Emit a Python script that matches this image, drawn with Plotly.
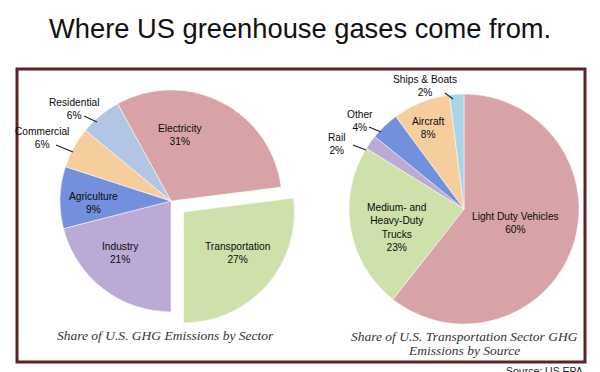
import plotly.graph_objects as go

# ---------------- data ----------------
sector_labels = ["Electricity", "Transportation", "Industry", "Agriculture", "Commercial", "Residential"]
sector_values = [31, 27, 21, 9, 6, 6]
sector_pull = [0, 0.15, 0, 0, 0, 0]

transport_labels = ["Light Duty Vehicles", "Medium- and<br>Heavy-Duty<br>Trucks", "Rail", "Other", "Aircraft", "Ships & Boats"]
transport_values = [60, 23, 2, 4, 8, 2]

# ---------------- styles ----------------
sector_colors = ["#d8a3a6", "#cfe1aa", "#bbaad6", "#7390dc", "#f6ce9e", "#b3c5e4"]
transport_colors = ["#d8a3a6", "#cfe1aa", "#bbaad6", "#7390dc", "#f6ce9e", "#abd4e6"]

W, H = 600, 372
LABEL_FONT = dict(family="Liberation Sans, Arial, sans-serif", size=10.2, color="#0a0a0a")
CAP_FONT = dict(family="Liberation Serif, Times New Roman, serif", size=13.5, color="#333333", style="italic")


def px(x, y):
    return x / W, 1 - y / H


def label(xp, yp, text, font, align="center", xanchor="center", yanchor="middle"):
    x, y = px(xp, yp)
    return dict(x=x, y=y, xref="paper", yref="paper", showarrow=False, text=text,
                font=font, align=align, xanchor=xanchor, yanchor=yanchor)


fig = go.Figure()

# left pie: center (171, 201), r=111, pull 0.15
half_l = 111 * 1.15
fig.add_trace(go.Pie(
    labels=sector_labels, values=sector_values, pull=sector_pull,
    sort=False, direction="clockwise", rotation=-28.8,
    marker=dict(colors=sector_colors, line=dict(color="white", width=0.5)),
    textinfo="none", hoverinfo="label+percent", showlegend=False,
    domain=dict(x=[(171 - half_l) / W, (171 + half_l) / W],
                y=[(H - 201 - half_l) / H, (H - 201 + half_l) / H]),
))

# right pie: center (464, 209), r=115
half_r = 115
fig.add_trace(go.Pie(
    labels=transport_labels, values=transport_values,
    sort=False, direction="clockwise", rotation=0,
    marker=dict(colors=transport_colors, line=dict(color="white", width=0.5)),
    textinfo="none", hoverinfo="label+percent", showlegend=False,
    domain=dict(x=[(464 - half_r) / W, (464 + half_r) / W],
                y=[(H - 209 - half_r) / H, (H - 209 + half_r) / H]),
))

annotations = []
shapes = []

# inside labels (positions in pixels)
inside_left = {"Electricity": (180, 135), "Transportation": (237, 253),
               "Industry": (120, 253), "Agriculture": (93, 203)}
for lab, val in zip(sector_labels, sector_values):
    if lab in inside_left:
        annotations.append(label(*inside_left[lab], f"{lab}<br>{val}%", LABEL_FONT))

inside_right = {"Light Duty Vehicles": (515, 223), "Medium- and<br>Heavy-Duty<br>Trucks": (397, 227),
                "Aircraft": (428, 128)}
for lab, val in zip(transport_labels, transport_values):
    if lab in inside_right:
        annotations.append(label(*inside_right[lab], f"{lab}<br>{val}%", LABEL_FONT))


def leader(x0, y0, x1, y1):
    a, b = px(x0, y0)
    c, d = px(x1, y1)
    shapes.append(dict(type="line", xref="paper", yref="paper", x0=a, y0=b, x1=c, y1=d,
                       line=dict(color="#222222", width=1.2)))


# outside labels with leader lines: (text anchor, line start, line end)
outside_left = {"Residential": ((101, 109), (84, 116), (97, 122)),
                "Commercial": ((71, 138), (56, 145), (73, 152))}
for lab, val in zip(sector_labels, sector_values):
    if lab in outside_left:
        (tx, ty), (x0, y0), (x1, y1) = outside_left[lab]
        annotations.append(label(tx, ty, f"{lab}<br>{val}%", LABEL_FONT, align="center", xanchor="right"))
        leader(x0, y0, x1, y1)

outside_right = {"Ships & Boats": ((425, 86), (445, 93), (453, 99)),
                 "Other": ((360, 121), (369, 127), (381, 132)),
                 "Rail": ((337, 144), (353, 145), (366, 150))}
for lab, val in zip(transport_labels, transport_values):
    if lab in outside_right:
        (tx, ty), (x0, y0), (x1, y1) = outside_right[lab]
        annotations.append(label(tx, ty, f"{lab}<br>{val}%", LABEL_FONT))
        leader(x0, y0, x1, y1)

# captions
annotations.append(label(165, 335, "Share of U.S. GHG Emissions by Sector", CAP_FONT))
annotations.append(label(464, 336, "Share of U.S. Transportation Sector GHG", CAP_FONT))
annotations.append(label(464, 350, "Emissions by Source", CAP_FONT))

# main title
annotations.append(label(300, 28, "Where US greenhouse gases come from.",
                         dict(family="Liberation Sans, Arial, sans-serif", size=27.3, color="#111111")))

# source
annotations.append(label(585, 363, "Source: US EPA",
                         dict(family="Liberation Sans, Arial, sans-serif", size=10.5, color="#222222"),
                         xanchor="right", yanchor="top"))

x0, y1 = px(17, 69)
x1, y0 = px(585, 362)
shapes.append(dict(type="rect", xref="paper", yref="paper", x0=x0, x1=x1, y0=y0, y1=y1,
                   line=dict(color="#5e2224", width=3), layer="below"))

fig.update_layout(
    width=W, height=H,
    margin=dict(l=0, r=0, t=0, b=0),
    paper_bgcolor="white", plot_bgcolor="white",
    annotations=annotations,
    shapes=shapes,
)

fig.write_html("out.html", config={"displayModeBar": False},
               post_script="document.body.style.margin='0';document.body.style.padding='0';")
